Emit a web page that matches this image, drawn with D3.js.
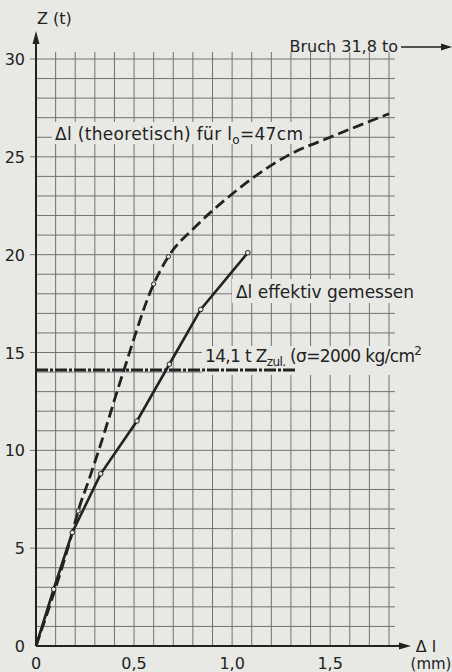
<!DOCTYPE html>
<html>
<head>
<meta charset="utf-8">
<script src="https://cdn.jsdelivr.net/npm/d3@7"></script>
<style>
  body { margin: 0; background: #e8e8e5; }
  svg { display: block; font-family: "DejaVu Sans", sans-serif; }
</style>
</head>
<body>
<svg id="drawing_region"></svg>
<script>
// measured elongation (mm) vs load Z (t)
const measuredDl = [0, 0.09, 0.185, 0.33, 0.515, 0.68, 0.84, 1.08];
const measuredZ  = [0, 2.9, 5.8, 8.8, 11.5, 14.4, 17.2, 20.1];

// theoretical curve for l0 = 47 cm
const theoryDl = [0, 0.185, 0.215, 0.27, 0.32, 0.445, 0.60, 0.675, 0.81, 0.97, 1.29, 1.50, 1.80];
const theoryZ  = [0, 5.8, 6.9, 8.5, 10.0, 14.0, 18.5, 19.9, 21.4, 22.85, 25.1, 26.0, 27.2];
const theoryMarked = [2, 6, 7];

// allowable load line
const allowDl = [0, 1.33];
const allowZ  = [14.1, 14.1];

const xTicks = [0, 0.5, 1.0, 1.5];
const xTickLabels = ["0", "0,5", "1,0", "1,5"];
const yTicks = [0, 5, 10, 15, 20, 25, 30];
const yTickLabels = ["0", "5", "10", "15", "20", "25", "30"];

const W = 452, H = 672;
const bg = "#e8e8e5", ink = "#222", gridCol = "#727272";

const svg = d3.select("#drawing_region").attr("width", W).attr("height", H);

const x = d3.scaleLinear().domain([0, 1.8]).range([36, 389]);
const y = d3.scaleLinear().domain([0, 30]).range([646, 59]);

// grid
const grid = svg.append("g").attr("stroke", gridCol).attr("stroke-width", 1);
grid.selectAll("line.v").data(x.ticks(18).filter(d => d > 0)).enter().append("line")
    .attr("x1", d => x(d)).attr("x2", d => x(d))
    .attr("y1", y(0)).attr("y2", y(30) - 7);
grid.selectAll("line.h").data(y.ticks(30).filter(d => d > 0)).enter().append("line")
    .attr("x1", d => d % 5 === 0 ? x(0) - 6 : x(0)).attr("x2", x(1.8) + 6)
    .attr("y1", d => y(d)).attr("y2", d => y(d));

// label boxes hiding the grid
const boxes = [
  {x0: 52, x1: 309, y0: 122, y1: 144},
  {x0: 232, x1: 422, y0: 279, y1: 303},
  {x0: 202, x1: 428, y0: 346, y1: 375}
];
svg.selectAll("rect.box").data(boxes).enter().append("rect")
   .attr("x", d => d.x0).attr("y", d => d.y0)
   .attr("width", d => d.x1 - d.x0).attr("height", d => d.y1 - d.y0)
   .attr("fill", bg);

// axes
svg.append("line").attr("x1", x(0)).attr("x2", x(0)).attr("y1", y(0)).attr("y2", 40)
   .attr("stroke", ink).attr("stroke-width", 2);
svg.append("path").attr("d", `M${x(0)},31 L${x(0)-3.5},44 L${x(0)+3.5},44 Z`).attr("fill", ink);
svg.append("line").attr("x1", x(0)).attr("x2", 402).attr("y1", y(0)).attr("y2", y(0))
   .attr("stroke", ink).attr("stroke-width", 2);
svg.append("path").attr("d", `M411,${y(0)} L399,${y(0)-3.5} L399,${y(0)+3.5} Z`).attr("fill", ink);

// tick labels
svg.selectAll("text.yt").data(yTicks).enter().append("text")
   .attr("x", x(0) - 11).attr("y", d => y(d) + 6)
   .attr("text-anchor", "end").attr("font-size", 16).attr("fill", ink)
   .text((d, i) => yTickLabels[i]);
svg.selectAll("text.xt").data(xTicks).enter().append("text")
   .attr("x", d => x(d)).attr("y", 669)
   .attr("text-anchor", "middle").attr("font-size", 16).attr("fill", ink)
   .text((d, i) => xTickLabels[i]);

svg.append("text").attr("x", 37).attr("y", 24).attr("font-size", 16).attr("fill", ink).text("Z (t)");
svg.append("text").attr("x", 426).attr("y", 652).attr("text-anchor", "middle").attr("font-size", 16).attr("fill", ink).text("Δ l");
svg.append("text").attr("x", 431).attr("y", 669).attr("text-anchor", "middle").attr("font-size", 15).attr("fill", ink).text("(mm)");

// curves
const line = d3.line().x(d => x(d[0])).y(d => y(d[1]));
const measured = measuredDl.map((d, i) => [d, measuredZ[i]]);
const theory = theoryDl.map((d, i) => [d, theoryZ[i]]);
const allow = allowDl.map((d, i) => [d, allowZ[i]]);

svg.append("path").attr("d", line.curve(d3.curveMonotoneX)(theory))
   .attr("fill", "none").attr("stroke", ink).attr("stroke-width", 2.8)
   .attr("stroke-dasharray", "11,5");
svg.append("path").attr("d", line.curve(d3.curveLinear)(measured))
   .attr("fill", "none").attr("stroke", ink).attr("stroke-width", 2.6);
svg.append("path").attr("d", line.curve(d3.curveLinear)(allow))
   .attr("fill", "none").attr("stroke", ink).attr("stroke-width", 3)
   .attr("stroke-dasharray", "12,2,3,2");

svg.selectAll("circle.m").data(measured.slice(1)).enter().append("circle")
   .attr("cx", d => x(d[0])).attr("cy", d => y(d[1])).attr("r", 2.3)
   .attr("fill", bg).attr("stroke", ink).attr("stroke-width", 1);
svg.selectAll("circle.t").data(theoryMarked.map(i => theory[i])).enter().append("circle")
   .attr("cx", d => x(d[0])).attr("cy", d => y(d[1])).attr("r", 2.1)
   .attr("fill", bg).attr("stroke", ink).attr("stroke-width", 1);

// annotations
const t1 = svg.append("text").attr("x", 55).attr("y", 140).attr("font-size", 17).attr("fill", ink)
   .attr("textLength", 248);
t1.append("tspan").text("Δl (theoretisch) für  l");
t1.append("tspan").attr("dy", 4).attr("font-size", 12).text("o");
t1.append("tspan").attr("dy", -4).text("=47cm");

svg.append("text").attr("x", 236).attr("y", 298).attr("font-size", 17).attr("fill", ink)
   .attr("textLength", 178).text("Δl effektiv  gemessen");

const t3 = svg.append("text").attr("x", 205).attr("y", 362).attr("font-size", 17).attr("fill", ink)
   .attr("textLength", 217);
t3.append("tspan").text("14,1 t  Z");
t3.append("tspan").attr("dy", 4).attr("font-size", 12).text("zul.");
t3.append("tspan").attr("dy", -4).text(" (σ=2000 kg/cm");
t3.append("tspan").attr("dy", -7).attr("font-size", 12).text("2");

svg.append("text").attr("x", 398).attr("y", 52).attr("text-anchor", "end")
   .attr("font-size", 16).attr("fill", ink).text("Bruch  31,8 to");
svg.append("line").attr("x1", 401).attr("x2", 444).attr("y1", 47).attr("y2", 47)
   .attr("stroke", ink).attr("stroke-width", 1.6);
svg.append("path").attr("d", "M452,47 L441,43.5 L441,50.5 Z").attr("fill", ink);
</script>
</body>
</html>
